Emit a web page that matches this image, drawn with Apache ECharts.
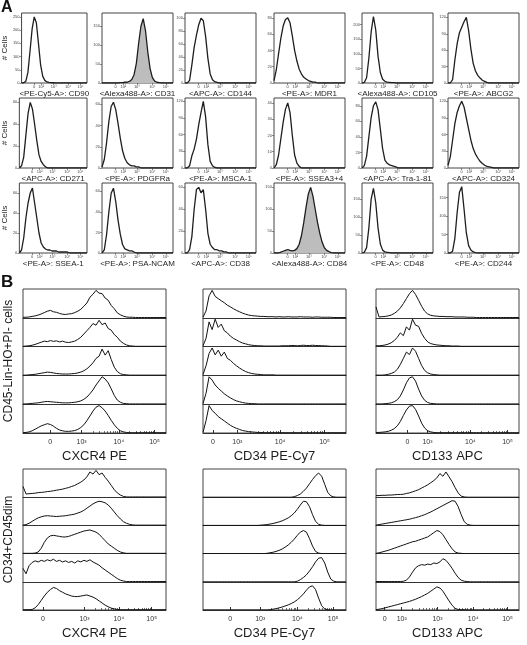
<!DOCTYPE html>
<html>
<head>
<meta charset="utf-8">
<script src="https://cdn.jsdelivr.net/npm/echarts@6/dist/echarts.min.js"></script>
<style>
html, body { margin: 0; padding: 0; background: #fff; }
#main { width: 527px; height: 645px; }
</style>
</head>
<body>
<div id="main"></div>
<script>
// ---------- panel A : single marker histograms (# cells per channel bin) ----------
var aLabels = [
	'<PE-Cy5-A>: CD90', '<Alexa488-A>: CD31', '<APC-A>: CD144', '<PE-A>: MDR1', '<Alexa488-A>: CD105', '<PE-A>: ABCG2',
	'<APC-A>: CD271', '<PE-A>: PDGFRa', '<PE-A>: MSCA-1', '<PE-A>: SSEA3+4', '<APC-A>: Tra-1-81', '<APC-A>: CD324',
	'<PE-A>: SSEA-1', '<PE-A>: PSA-NCAM', '<APC-A>: CD38', '<Alexa488-A>: CD84', '<PE-A>: CD48', '<PE-A>: CD244'
];
var cd90    = [0,1,6,40,120,205,250,228,150,70, 26,10,4,2,1,1,0,0,0,0, 0,0,0,0,0,0,0,0,0,0, 0,0];
var cd31    = [0,0,0,0,0,0,0,0,1,1, 2,2,4,9,22,52,105,150,170,138, 82,38,14,5,2,1,0,0,0,0, 0,0];
var cd144   = [0,0,4,28,55,74,90,100,96,72, 38,14,5,2,1,0,0,0,0,0, 0,0,0,0,0,0,0,0,0,0, 0,0];
var mdr1    = [3,16,36,55,70,78,80,74,58,40, 27,17,11,7,5,3,2,1,1,0, 0,0,0,0,0,0,0,0,0,0, 0,0];
var cd105   = [0,2,18,85,175,228,182,92,36,13, 6,3,2,1,1,0,0,0,0,0, 0,0,0,0,0,0,0,0,0,0, 0,0];
var abcg2   = [0,0,6,42,72,92,102,112,120,96, 62,36,22,14,9,5,3,1,0,0, 0,0,0,0,0,0,0,0,0,0, 0,0];
var cd271   = [0,2,10,30,50,60,54,40,25,12, 6,3,1,0,0,0,0,0,0,0, 0,0,0,0,0,0,0,0,0,0, 0,0];
var pdgfra  = [1,8,24,44,58,62,55,42,28,16, 9,5,3,2,2,1,1,0,0,0, 0,0,0,0,0,0,0,0,0,0, 0,0];
var msca1   = [0,0,4,22,34,52,78,100,120,92, 42,12,4,1,0,0,0,0,0,0, 0,0,0,0,0,0,0,0,0,0, 0,0];
var ssea34  = [0,2,8,18,28,36,40,34,20,8, 3,1,0,0,0,0,0,0,0,0, 0,0,0,0,0,0,0,0,0,0, 0,0];
var tra181  = [0,3,15,40,65,80,85,75,50,25, 10,6,4,3,2,1,0,0,0,0, 0,0,0,0,0,0,0,0,0,0, 0,0];
var cd324   = [5,20,50,80,100,112,120,110,90,70, 50,35,25,18,12,8,5,3,2,1, 0,0,0,0,0,0,0,0,0,0, 0,0];
var ssea1   = [0,3,15,35,50,60,65,50,35,20, 10,6,4,3,3,2,2,2,1,1, 1,1,1,0,0,0,0,0,0,0, 0,0];
var psancam = [0,3,18,40,58,63,50,32,18,8, 4,3,2,2,1,0,0,0,0,0, 0,0,0,0,0,0,0,0,0,0, 0,0];
var cd38    = [0,0,3,15,40,58,60,55,58,40, 18,8,5,3,3,2,2,1,1,0, 0,0,0,0,0,0,0,0,0,0, 0,0];
var cd84    = [0,0,0,2,4,6,8,6,5,6, 10,20,40,70,105,135,150,130,100,70, 45,25,12,6,3,1,0,0,0,0, 0,0];
var cd48    = [0,2,15,70,150,180,140,70,25,8, 3,2,1,0,0,0,0,0,0,0, 0,0,0,0,0,0,0,0,0,0, 0,0];
var cd244   = [0,0,5,40,110,165,180,120,55,20, 8,3,1,0,0,0,0,0,0,0, 0,0,0,0,0,0,0,0,0,0, 0,0];

var aCounts = [cd90, cd31, cd144, mdr1, cd105, abcg2, cd271, pdgfra, msca1, ssea34, tra181, cd324, ssea1, psancam, cd38, cd84, cd48, cd244];
var aYMax  = [265, 185, 108, 86, 240, 128, 64, 66, 126, 43, 90, 126, 70, 68, 64, 160, 195, 190];
var aYStep = [50, 50, 20, 20, 50, 30, 20, 20, 30, 10, 20, 30, 20, 20, 20, 50, 50, 50];
var aShaded = [1, 15];
var aTickPos  = [0.19, 0.30, 0.49, 0.71, 0.90];
var aTickText = ['0', '10²', '10³', '10⁴', '10⁵'];

// ---------- panel B : stacked histograms, 5 samples per panel (relative height) ----------
var bTitles = ['CXCR4 PE', 'CD34 PE-Cy7', 'CD133 APC'];
var bRowNames = ['CD45-Lin-HO+PI- cells', 'CD34+CD45dim'];

var cxcr4Top = [
	[2,2,3,5,7,10,14,19,24,27, 22,20,16,13,12,14,15,19,24,31, 42,54,75,86,100,90,88,72,64,45, 33,18,11,6,3,2,2,1,1,1, 1,1,1,1,1,1,1,1],
	[1,2,3,5,8,12,16,20,18,22, 19,21,17,20,16,15,17,20,26,34, 46,58,70,84,78,96,80,86,66,60, 44,34,20,12,6,3,2,1,1,1, 1,1,1,1,1,1,1,1],
	[1,1,2,3,4,6,8,10,12,11, 9,7,6,5,5,5,6,7,9,12, 17,24,34,46,62,70,96,74,90,58, 30,14,6,3,2,1,1,1,1,1, 1,1,1,1,1,1,1,1],
	[1,1,2,3,4,5,7,9,10,9, 8,7,6,5,5,5,6,7,9,12, 18,26,38,52,70,85,100,92,78,56, 32,15,7,3,2,1,1,1,1,1, 1,1,1,1,1,1,1,1],
	[1,2,4,8,14,20,26,30,34,31, 25,17,11,8,6,6,7,9,13,20, 30,45,62,80,94,100,92,80,64,46, 30,17,8,4,2,1,1,1,1,1, 1,1,1,1,1,1,1,1]
];
var cd34Top = [
	[2,25,80,100,78,70,62,55,46,40, 33,27,22,17,13,10,8,7,6,5, 5,4,4,4,3,4,3,3,4,3, 3,3,4,3,3,3,2,3,3,2, 2,2,2,1,1,1,1,1],
	[3,30,90,62,100,70,82,58,50,38, 30,24,18,13,10,7,5,4,3,3, 2,2,2,2,2,2,3,3,3,4, 4,3,4,5,4,4,5,4,4,3, 3,2,1,1,1,1,1,1],
	[3,35,80,100,75,92,70,85,62,55, 44,35,27,20,14,10,7,5,4,3, 2,2,2,2,1,1,1,1,1,1, 1,1,1,1,1,1,1,1,1,1, 1,1,1,1,1,1,1,1],
	[2,40,100,88,70,58,48,38,30,23, 17,12,9,6,4,3,2,2,1,1, 1,1,1,1,1,1,1,1,1,1, 1,1,1,1,1,1,1,1,1,1, 1,1,1,1,1,1,1,1],
	[2,45,100,82,72,60,52,44,36,28, 22,17,13,9,7,5,4,3,2,2, 1,1,1,1,1,1,1,1,1,1, 1,1,1,1,1,1,1,1,1,1, 1,1,1,1,1,1,1,1]
];
var cd133Top = [
	[40,3,4,5,7,10,16,24,36,52, 70,88,100,85,64,42,24,14,9,7, 6,5,5,4,4,4,3,3,3,3, 2,2,2,1,1,1,1,1,1,1, 1,1,1,1,1,1,1,1],
	[3,3,4,6,9,14,22,34,50,40, 72,60,100,78,74,48,30,17,11,8, 6,5,4,3,3,2,2,2,1,1, 1,1,1,1,1,1,1,1,1,1, 1,1,1,1,1,1,1,1],
	[1,1,1,2,4,7,12,22,40,62, 85,76,100,88,62,36,18,9,5,3, 2,1,1,1,1,1,1,1,1,1, 1,1,1,1,1,1,1,1,1,1, 1,1,1,1,1,1,1,1],
	[1,1,1,2,3,5,9,16,30,52, 78,96,100,84,55,30,14,6,3,2, 1,1,1,1,1,1,1,1,1,1, 1,1,1,1,1,1,1,1,1,1, 1,1,1,1,1,1,1,1],
	[2,2,3,4,6,10,16,26,42,64, 84,98,100,86,62,36,18,8,4,2, 1,1,1,1,1,1,1,1,1,1, 1,1,1,1,1,1,1,1,1,1, 1,1,1,1,1,1,1,1]
];
var cxcr4Bot = [
	[40,12,13,14,15,17,18,19,21,22, 24,26,28,30,33,36,40,44,50,56, 64,76,94,86,100,84,90,74,60,44, 28,16,8,3,1,1,1,1,1,1, 1,1,1,1,1,1,1,1],
	[1,3,8,15,22,28,32,35,36,35, 34,33,34,35,36,38,40,42,46,50, 56,64,72,80,86,90,88,84,76,64, 50,36,24,14,8,4,2,1,1,1, 1,1,1,1,1,1,1,1],
	[1,1,1,1,2,6,20,42,58,66, 68,66,64,62,62,64,68,72,76,80, 84,86,88,84,80,72,60,48,36,28, 20,12,6,3,1,1,1,1,1,1, 1,1,1,1,1,1,1,1],
	[50,30,60,72,78,74,80,76,82,78, 84,76,80,74,78,72,76,70,78,74, 80,76,82,74,68,62,52,44,36,28, 20,12,6,3,1,1,1,1,1,1, 1,1,1,1,1,1,1,1],
	[1,1,1,2,8,20,36,52,66,76, 84,80,72,66,60,56,52,50,50,52, 54,56,52,48,42,34,26,18,12,7, 4,2,1,1,1,1,1,1,1,1, 1,1,1,1,1,1,1,1]
];
var cd34Bot = [
	[0,0,0,0,0,0,0,0,0,0, 0,0,0,0,0,0,0,0,0,0, 0,0,0,0,0,0,0,0,0,0, 2,6,12,22,34,50,66,80,90,78, 48,18,5,1,0,0,0,0],
	[0,0,0,0,0,0,0,0,0,0, 0,0,0,0,0,0,0,0,0,1, 2,3,5,7,10,13,17,22,28,36, 46,60,76,90,88,70,40,15,4,1, 0,0,0,0,0,0,0,0],
	[0,0,0,0,0,0,0,0,0,0, 0,0,0,0,0,0,0,0,0,0, 0,1,3,5,8,12,17,24,32,42, 54,68,80,86,80,56,28,8,2,0, 0,0,0,0,0,0,0,0],
	[0,0,0,0,0,0,0,0,0,0, 0,0,0,0,0,0,0,0,0,0, 0,0,0,0,0,0,0,0,0,0, 0,2,8,16,26,40,56,74,88,90, 70,36,10,2,0,0,0,0],
	[0,0,0,0,0,0,0,0,0,0, 0,0,0,0,0,0,0,0,0,0, 0,0,1,3,5,8,11,15,19,24, 30,38,48,60,74,86,90,76,44,16, 4,1,0,0,0,0,0,0]
];
var cd133Bot = [
	[6,6,7,7,8,8,9,10,10,11, 14,16,20,24,28,34,40,46,54,62, 72,88,78,94,76,58,36,16,4,1, 0,0,0,0,0,0,0,0,0,0, 0,0,0,0,0,0,0,0],
	[1,3,5,7,9,11,13,15,17,19, 21,23,26,29,32,36,40,45,50,56, 62,68,74,80,86,92,90,70,40,14, 4,1,0,0,0,0,0,0,0,0, 0,0,0,0,0,0,0,0],
	[1,3,6,9,12,16,20,24,28,32, 36,40,44,46,50,54,58,62,70,78, 86,82,70,52,34,18,6,2,1,0, 0,0,0,0,0,0,0,0,0,0, 0,0,0,0,0,0,0,0],
	[1,1,1,1,1,1,1,1,1,2, 6,18,36,52,60,64,62,66,64,70, 68,74,86,80,66,50,32,16,6,2, 1,0,0,0,0,0,0,0,0,0, 0,0,0,0,0,0,0,0],
	[1,3,5,8,11,14,17,20,23,26, 29,32,36,40,45,50,56,62,70,78, 86,82,70,52,34,18,6,2,1,1, 0,0,0,0,0,0,0,0,0,0, 0,0,0,0,0,0,0,0]
];
var bCurves = [[cxcr4Top, cd34Top, cd133Top], [cxcr4Bot, cd34Bot, cd133Bot]];

// tick positions (fraction of the axis width) for each B panel
var bTickPos = [
	[[0.19, 0.41, 0.67, 0.92], [0.07, 0.24, 0.54, 0.85], [0.22, 0.36, 0.66, 0.92]],
	[[0.14, 0.43, 0.67, 0.90], [0.19, 0.40, 0.66, 0.91], [0.06, 0.18, 0.43, 0.68, 0.92]]
];
var bTickText = [
	[['0', '10³', '10⁴', '10⁵'], ['0', '10³', '10⁴', '10⁵'], ['0', '10³', '10⁴', '10⁵']],
	[['0', '10³', '10⁴', '10⁵'], ['0', '10³', '10⁴', '10⁵'], ['0', '10²', '10³', '10⁴', '10⁵']]
];

// ---------- layout ----------
var aLeft = [16, 102, 185, 274, 362, 448], aTop = [13, 98, 183], aW = 71, aH = 70;
var bLeft = [23, 203, 376], bTop = [289, 469], bW = 143, bH = [144, 141];
var FONT = '"Liberation Sans", Arial, sans-serif';
var INK = '#1e1e1e';

var grids = [], xAxes = [], yAxes = [], series = [];

function addGrid(g, x, y) {
	grids.push(g);
	var i = grids.length - 1;
	x.gridIndex = i; y.gridIndex = i;
	xAxes.push(x); yAxes.push(y);
	return i;
}

function labelFmt(vals, text) {
	return function (v) {
		for (var i = 0; i < vals.length; i++) if (Math.abs(vals[i] - v) < 1e-6) return text[i];
		return '';
	};
}

// panel A
aCounts.forEach(function (counts, k) {
	var r = Math.floor(k / 6), c = k % 6;
	var n = counts.length;
	var xv = aTickPos.map(function (p) { return p * (n - 1); });
	var yv = [];
	for (var t = 0; t <= aYMax[k]; t += aYStep[k]) yv.push(t);
	var gi = addGrid(
		{left: aLeft[c], top: aTop[r], width: aW, height: aH, show: true, borderColor: '#444', borderWidth: 1},
		{
			type: 'value', min: 0, max: n - 1,
			name: aLabels[k], nameLocation: 'middle', nameGap: 7,
			nameTextStyle: {fontSize: 8, color: INK, fontFamily: FONT},
			axisLine: {show: false}, splitLine: {show: false},
			axisTick: {show: true, length: 2, customValues: xv, lineStyle: {color: '#444', width: 0.6}},
			axisLabel: {show: true, fontSize: 4, margin: 2, color: '#444', fontFamily: FONT, customValues: xv, formatter: labelFmt(xv, aTickText)}
		},
		{
			type: 'value', min: 0, max: aYMax[k],
			name: c === 0 ? '# Cells' : '', nameLocation: 'middle', nameGap: 8,
			nameTextStyle: {fontSize: 8, color: INK, fontFamily: FONT},
			axisLine: {show: false}, splitLine: {show: false},
			axisTick: {show: true, length: 2, customValues: yv, lineStyle: {color: '#444', width: 0.6}},
			axisLabel: {show: true, fontSize: 4, margin: 2, color: '#444', fontFamily: FONT, customValues: yv}
		}
	);
	var shaded = aShaded.indexOf(k) >= 0;
	series.push({
		type: 'line', xAxisIndex: gi, yAxisIndex: gi, symbol: 'none', silent: true,
		data: counts.map(function (v, i) { return [i, v]; }),
		lineStyle: {color: INK, width: 1.3},
		areaStyle: shaded ? {color: '#bdbdbd', opacity: 1} : undefined
	});
});

// panel B
bCurves.forEach(function (row, r) {
	row.forEach(function (lanes, c) {
		var n = lanes[0].length;
		var pos = bTickPos[r][c], text = bTickText[r][c];
		var major = pos.map(function (p) { return p * (n - 1); });
		// minor log ticks between the labelled decades
		var minor = [];
		for (var d = 0; d + 1 < major.length; d++) {
			if (text[d].indexOf('10') !== 0) continue;
			for (var m = 2; m < 10; m++) minor.push(major[d] + (major[d + 1] - major[d]) * Math.log10(m));
		}
		// frame with axis
		var fi = addGrid(
			{left: bLeft[c], top: bTop[r], width: bW, height: bH[r], show: true, borderColor: '#444', borderWidth: 1},
			{
				type: 'value', min: 0, max: n - 1,
				name: bTitles[c], nameLocation: 'middle', nameGap: 17,
				nameTextStyle: {fontSize: 13, color: INK, fontFamily: FONT},
				axisLine: {show: false}, splitLine: {show: false},
				axisTick: {show: true, inside: true, length: 3, customValues: major, lineStyle: {color: '#333', width: 1}},
				axisLabel: {show: true, fontSize: 7, margin: 6, color: '#333', fontFamily: FONT, customValues: major, formatter: labelFmt(major, text)}
			},
			{
				type: 'value', min: 0, max: 1,
				name: c === 0 ? bRowNames[r] : '', nameLocation: 'middle', nameGap: 8,
				nameTextStyle: {fontSize: 12, color: INK, fontFamily: FONT},
				axisLine: {show: false}, splitLine: {show: false},
				axisTick: {show: false}, axisLabel: {show: false}
			}
		);
		xAxes.push({
			gridIndex: fi, type: 'value', min: 0, max: n - 1, position: 'bottom',
			axisLine: {show: false}, splitLine: {show: false}, axisLabel: {show: false},
			axisTick: {show: true, inside: true, length: 2, customValues: minor, lineStyle: {color: '#333', width: 0.7}}
		});
		// one lane per sample
		var laneH = bH[r] / lanes.length;
		lanes.forEach(function (vals, j) {
			var li = addGrid(
				{left: bLeft[c], top: bTop[r] + j * laneH, width: bW, height: laneH},
				{
					type: 'value', min: 0, max: n - 1,
					axisLine: {show: true, lineStyle: {color: '#333', width: 1}},
					axisTick: {show: false}, axisLabel: {show: false}, splitLine: {show: false}
				},
				{type: 'value', min: 0, max: 105, show: false}
			);
			series.push({
				type: 'line', xAxisIndex: xAxes.length - 1, yAxisIndex: li, symbol: 'none', silent: true,
				data: vals.map(function (v, i) { return [i, v]; }),
				lineStyle: {color: '#111', width: 1}
			});
		});
	});
});

var chart = echarts.init(document.getElementById('main'));
chart.setOption({
	animation: false,
	backgroundColor: '#fff',
	grid: grids,
	xAxis: xAxes,
	yAxis: yAxes,
	series: series,
	graphic: [
		{type: 'text', left: 1, top: 0, style: {text: 'A', font: 'bold 16px "Liberation Sans"', fill: '#111'}},
		{type: 'text', left: 1, top: 274, style: {text: 'B', font: 'bold 17px "Liberation Sans"', fill: '#111'}}
	]
});
</script>
</body>
</html>
